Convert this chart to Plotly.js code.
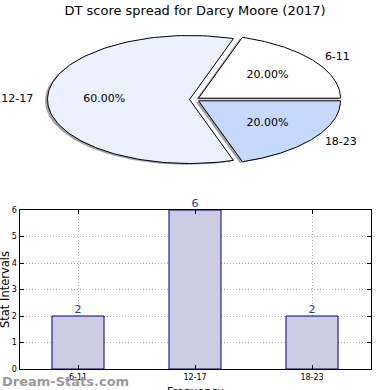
<!DOCTYPE html>
<html>
<head>
<meta charset="utf-8">
<script src="https://cdn.plot.ly/plotly-3.0.1.min.js"></script>
<style>html,body{margin:0;padding:0;background:#fff;}#chart{width:390px;height:390px;}</style>
</head>
<body>
<div id="chart"></div>
<script>
// ---- data ----
const categories = ["6-11", "12-17", "18-23"];
const counts = [2, 6, 2];
const sliceColors = ["#ffffff", "#ebf1fe", "#c6d9fd"];
const titleText = "DT score spread for Darcy Moore (2017)";
const xTitle = "Frequency";
const yTitle = "Stat Intervals";
const watermark = "Dream-Stats.com";

// ---- pie geometry (elliptical pie drawn on stretched axes) ----
const explode = 0.035;
const total = counts.reduce((a, b) => a + b, 0);
const FONT = "DejaVu Sans, sans-serif";
const traces = [];
const wedges = [];
const shadows = [];
const labelX = [], labelY = [], labelT = [], labelPos = [];
const pctX = [], pctY = [], pctT = [];
let acc = 0;
counts.forEach((v, i) => {
  const a0 = 2 * Math.PI * acc / total;
  const a1 = 2 * Math.PI * (acc + v) / total;
  acc += v;
  const mid = (a0 + a1) / 2;
  const cx = explode * Math.cos(mid), cy = explode * Math.sin(mid);
  const xs = [cx], ys = [cy];
  const n = 120;
  for (let k = 0; k <= n; k++) {
    const a = a0 + (a1 - a0) * k / n;
    xs.push(cx + Math.cos(a));
    ys.push(cy + Math.sin(a));
  }
  xs.push(cx); ys.push(cy);
  shadows.push({
    x: xs.map(x => x - 0.018), y: ys.map(y => y - 0.02),
    xaxis: "x2", yaxis: "y2", mode: "lines", fill: "toself",
    fillcolor: "rgba(70,70,75,0.5)", line: {width: 0}, hoverinfo: "skip", showlegend: false
  });
  wedges.push({
    x: xs, y: ys, xaxis: "x2", yaxis: "y2", mode: "lines", fill: "toself",
    fillcolor: sliceColors[i], line: {color: "#000000", width: 1}, hoverinfo: "skip", showlegend: false
  });
  const lx = cx + 1.1 * Math.cos(mid), ly = cy + 1.1 * Math.sin(mid);
  labelX.push(lx); labelY.push(ly); labelT.push(categories[i]);
  labelPos.push(lx >= 0 ? "middle right" : "middle left");
  pctX.push(cx + 0.6 * Math.cos(mid)); pctY.push(cy + 0.6 * Math.sin(mid));
  pctT.push((100 * v / total).toFixed(2) + "%");
});
traces.push(...shadows, ...wedges);
traces.push({
  x: labelX, y: labelY, text: labelT, textposition: labelPos, xaxis: "x2", yaxis: "y2",
  mode: "text", textfont: {family: FONT, size: 11, color: "#000"}, hoverinfo: "skip", showlegend: false, cliponaxis: false
});
traces.push({
  x: pctX, y: pctY, text: pctT, textposition: "middle center", xaxis: "x2", yaxis: "y2",
  mode: "text", textfont: {family: FONT, size: 11, color: "#000"}, hoverinfo: "skip", showlegend: false, cliponaxis: false
});

// ---- bar chart ----
traces.push({
  type: "bar", x: categories, y: counts, width: 0.445,
  marker: {color: "#ccccE5", line: {color: "#000080", width: 1}},
  hoverinfo: "skip", showlegend: false
});
traces.push({
  type: "scatter", mode: "text", x: categories, y: counts, text: counts.map(String),
  textposition: "top center", textfont: {family: FONT, size: 11, color: "#2e3a8c"},
  cliponaxis: false, hoverinfo: "skip", showlegend: false
});

const W = 390, H = 390;
const pcx = 194.5, pcy = 99.5, rx = 142, ry = 64;
const layout = {
  width: W, height: H,
  margin: {l: 0, r: 0, t: 0, b: 0},
  paper_bgcolor: "#ffffff", plot_bgcolor: "rgba(0,0,0,0)",
  font: {family: FONT, color: "#000"},
  showlegend: false,
  title: {text: titleText, font: {family: FONT, size: 13, color: "#000"}, x: 0.5, xanchor: "center", y: 1 - 10 / H, yanchor: "middle"},
  xaxis2: {domain: [0, 1], range: [-pcx / rx, (W - pcx) / rx], visible: false, fixedrange: true},
  yaxis2: {domain: [0.5, 1], range: [-(195 - pcy) / ry, pcy / ry], visible: false, fixedrange: true, anchor: "x2"},
  xaxis: {
    domain: [19.5 / W, 370.5 / W], range: [-0.5, 2.5], type: "category",
    showline: true, mirror: "ticks", linecolor: "#000", linewidth: 1,
    ticks: "inside", ticklen: 4, tickcolor: "#000",
    showgrid: true, gridcolor: "#b0b0b0", griddash: "1px,2px", gridwidth: 1,
    tickfont: {family: FONT, size: 8, color: "#000"},
    layer: "above traces",
    anchor: "y", fixedrange: true
  },
  yaxis: {
    domain: [(H - 369) / H, (H - 210) / H], range: [0, 6], dtick: 1,
    showline: true, mirror: "ticks", linecolor: "#000", linewidth: 1,
    ticks: "inside", ticklen: 4, tickcolor: "#000",
    showgrid: true, gridcolor: "#b0b0b0", griddash: "1px,2px", gridwidth: 1,
    zeroline: false,
    tickfont: {family: FONT, size: 8, color: "#000"},
    layer: "above traces",
    anchor: "x", fixedrange: true
  },
  annotations: [{
    xref: "paper", yref: "paper", x: 0, y: (H - 381) / H, xanchor: "left", yanchor: "middle",
    text: watermark, showarrow: false, font: {family: FONT, size: 13, color: "#9a9a9a", weight: "bold"}
  }, {
    xref: "paper", yref: "paper", x: 195 / W, y: (H - 391) / H, xanchor: "center", yanchor: "middle",
    text: xTitle, showarrow: false, font: {family: FONT, size: 11, color: "#000"}
  }, {
    xref: "paper", yref: "paper", x: 5 / W, y: (H - 290) / H, xanchor: "center", yanchor: "middle",
    text: yTitle, textangle: -90, showarrow: false, font: {family: FONT, size: 11.5, color: "#000"}
  }]
};
Plotly.newPlot("chart", traces, layout, {staticPlot: true, displayModeBar: false});
</script>
</body>
</html>
